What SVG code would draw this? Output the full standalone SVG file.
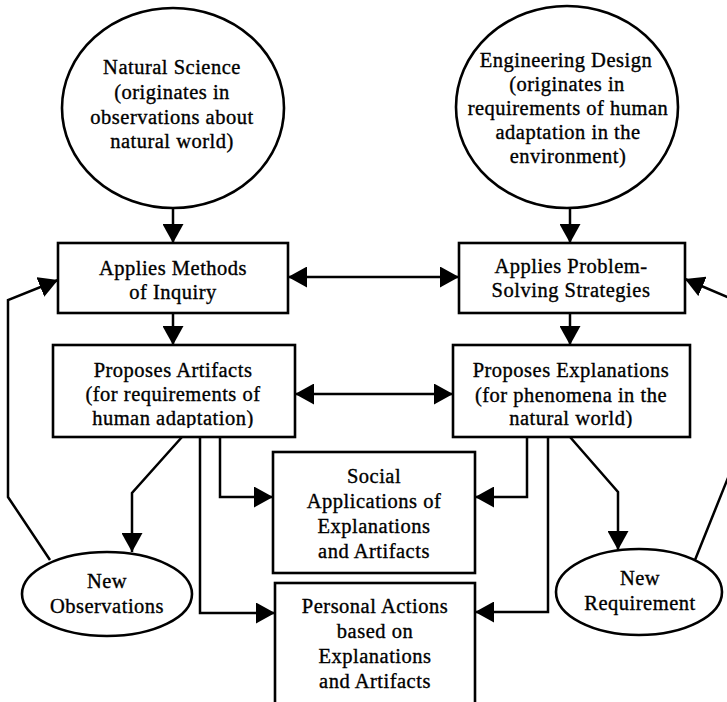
<svg xmlns="http://www.w3.org/2000/svg" width="727" height="702" viewBox="0 0 727 702">
<style>
.shape{fill:#fff;stroke:#000;stroke-width:2.6}
.t{font-family:"Liberation Serif","Times New Roman",serif;font-size:20.5px;letter-spacing:0.5px;text-anchor:middle;fill:#000;stroke:#000;stroke-width:0.35}
.c{fill:none;stroke:#000;stroke-width:2.5;marker-end:url(#ah)}
.d{fill:none;stroke:#000;stroke-width:2.5;marker-end:url(#ah);marker-start:url(#ah)}
</style>
<defs>
<marker id="ah" markerUnits="userSpaceOnUse" markerWidth="20" markerHeight="21" viewBox="0 0 20 21" refX="19" refY="10.5" orient="auto-start-reverse">
<path d="M0,0 L19,10.5 L0,21 Z" fill="#000"/>
</marker>
<clipPath id="clipL"><rect x="53" y="345" width="242" height="83"/></clipPath>
<clipPath id="clipR"><rect x="453" y="345" width="237" height="83"/></clipPath>
</defs>
<rect width="727" height="702" fill="#fff"/>

<g id="connectors">
<path class="c" d="M173,208 L173,243"/>
<path class="c" d="M570,208 L570,243"/>
<path class="c" d="M173,313 L173,345"/>
<path class="c" d="M570,313 L570,345"/>
<path class="d" d="M288,277 L459,277"/>
<path class="d" d="M295,394 L453,394"/>
<path class="c" d="M182,437 L132,493 L132,552"/>
<path class="c" d="M220,437 L220,497 L273,497"/>
<path class="c" d="M200,437 L200,613 L275,613"/>
<path class="c" d="M527,437 L527,497 L475,497"/>
<path class="c" d="M548,437 L548,612 L475,612"/>
<path class="c" d="M570,437 L618,492 L618,550"/>
<path class="c" d="M50,560 L8,497 L8,300 L58,280"/>
<path class="c" d="M695,560 L760,398 L760,311 L685,279"/>
</g>

<g id="natural-science">
<ellipse class="shape" cx="173" cy="108" rx="111" ry="100"/>
<text class="t" x="172" y="74">Natural Science</text>
<text class="t" x="172" y="99">(originates in</text>
<text class="t" x="172" y="124">observations about</text>
<text class="t" x="172" y="148">natural world)</text>
</g>

<g id="engineering-design">
<ellipse class="shape" cx="567" cy="107" rx="111" ry="101"/>
<text class="t" x="566" y="67">Engineering Design</text>
<text class="t" x="567" y="91">(originates in</text>
<text class="t" x="568" y="115">requirements of human</text>
<text class="t" x="568" y="139">adaptation in the</text>
<text class="t" x="568" y="163">environment)</text>
</g>

<g id="applies-methods">
<rect class="shape" x="58" y="243" width="230" height="70"/>
<text class="t" x="173" y="275">Applies Methods</text>
<text class="t" x="173" y="299">of Inquiry</text>
</g>

<g id="applies-problem-solving">
<rect class="shape" x="459" y="243" width="226" height="70"/>
<text class="t" x="571" y="273">Applies Problem-</text>
<text class="t" x="571" y="297">Solving Strategies</text>
</g>

<g id="proposes-artifacts">
<rect class="shape" x="53" y="345" width="242" height="92"/>
<text class="t" x="173" y="377">Proposes Artifacts</text>
<text class="t" x="173" y="401">(for requirements of</text>
<text class="t" x="173" y="425" clip-path="url(#clipL)">human adaptation)</text>
</g>

<g id="proposes-explanations">
<rect class="shape" x="453" y="345" width="237" height="92"/>
<text class="t" x="571" y="377">Proposes Explanations</text>
<text class="t" x="571" y="402">(for phenomena in the</text>
<text class="t" x="571" y="425" clip-path="url(#clipR)">natural world)</text>
</g>

<g id="social-applications">
<rect class="shape" x="273" y="452" width="202" height="121"/>
<text class="t" x="374" y="483">Social</text>
<text class="t" x="374" y="508">Applications of</text>
<text class="t" x="374" y="533">Explanations</text>
<text class="t" x="374" y="558">and Artifacts</text>
</g>

<g id="personal-actions">
<rect class="shape" x="275" y="583" width="200" height="125"/>
<text class="t" x="375" y="613">Personal Actions</text>
<text class="t" x="375" y="638">based on</text>
<text class="t" x="375" y="663">Explanations</text>
<text class="t" x="375" y="688">and Artifacts</text>
</g>

<g id="new-observations">
<ellipse class="shape" cx="107" cy="594" rx="85" ry="42"/>
<text class="t" x="107" y="588">New</text>
<text class="t" x="107" y="613">Observations</text>
</g>

<g id="new-requirement">
<ellipse class="shape" cx="639" cy="592" rx="83" ry="43"/>
<text class="t" x="640" y="585">New</text>
<text class="t" x="640" y="610">Requirement</text>
</g>
</svg>
